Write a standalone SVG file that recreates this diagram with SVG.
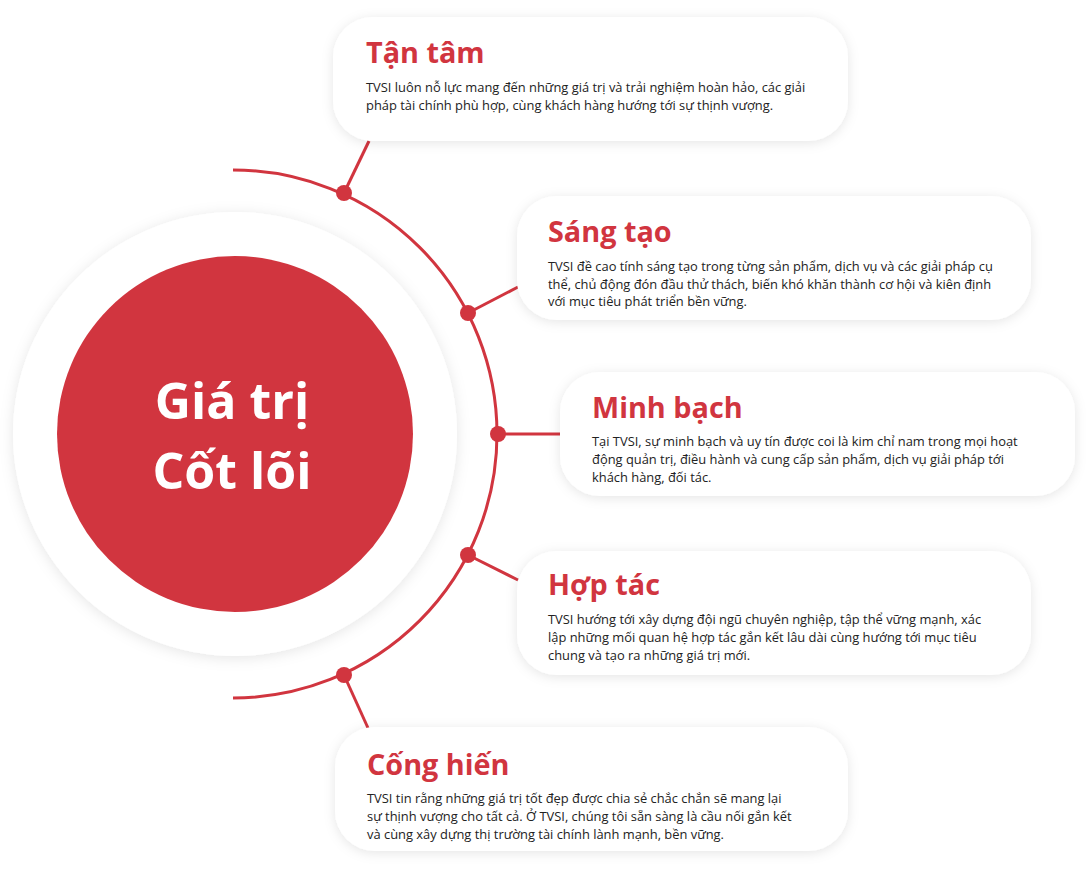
<svg xmlns="http://www.w3.org/2000/svg" width="1092" height="872" viewBox="0 0 1092 872">
<defs>
<filter id="sh" x="-20%" y="-30%" width="140%" height="160%">
<feDropShadow dx="0" dy="2" stdDeviation="6" flood-color="#000" flood-opacity="0.10"/>
</filter>
<filter id="shc" x="-20%" y="-20%" width="140%" height="140%">
<feDropShadow dx="0" dy="2" stdDeviation="7" flood-color="#000" flood-opacity="0.10"/>
</filter>
<style>
.card{fill:#fff;filter:url(#sh);}
.title{font-family:"Open Sans","Noto Sans",sans-serif;font-weight:700;font-size:28.8px;fill:#d1353f;}
.body{font-family:"Open Sans","Noto Sans",sans-serif;font-size:12.9px;fill:#222;}
.conn{stroke:#d1353f;stroke-width:3;fill:none;}
.dot{fill:#d1353f;}
.center{font-family:"Open Sans","Noto Sans",sans-serif;font-weight:700;font-size:50px;fill:#fff;text-anchor:middle;}
</style>
</defs>
<rect width="1092" height="872" fill="#fff"/>
<g id="core">
<circle cx="235" cy="434" r="222" fill="#fff" filter="url(#shc)"/>
<circle cx="235" cy="434" r="178" fill="#d1353f"/>
<text class="center" x="232" y="419">Giá trị</text>
<text class="center" x="232" y="489">Cốt lõi</text>
</g>
<g id="connectors">
<path class="conn" d="M233 170 A264 264 0 0 1 233 698"/>
<line class="conn" x1="344" y1="193" x2="369" y2="141"/>
<line class="conn" x1="468" y1="313" x2="518" y2="287"/>
<line class="conn" x1="498" y1="434" x2="561" y2="434"/>
<line class="conn" x1="468" y1="555" x2="518" y2="580"/>
<line class="conn" x1="344" y1="675" x2="368" y2="728"/>
<circle class="dot" cx="344" cy="193" r="8"/>
<circle class="dot" cx="468" cy="313" r="8"/>
<circle class="dot" cx="498" cy="434" r="8"/>
<circle class="dot" cx="468" cy="555" r="8"/>
<circle class="dot" cx="344" cy="675" r="8"/>
</g>
<g id="tan-tam">
<rect class="card" x="333" y="17" width="515" height="124" rx="40"/>
<text class="title" x="366" y="63">Tận tâm</text>
<text class="body" x="366" y="92">TVSI luôn nỗ lực mang đến những giá trị và trải nghiệm hoàn hảo, các giải</text>
<text class="body" x="366" y="110">pháp tài chính phù hợp, cùng khách hàng hướng tới sự thịnh vượng.</text>
</g>
<g id="sang-tao">
<rect class="card" x="517" y="196" width="514" height="124" rx="40"/>
<text class="title" x="548" y="242">Sáng tạo</text>
<text class="body" x="548" y="271">TVSI đề cao tính sáng tạo trong từng sản phẩm, dịch vụ và các giải pháp cụ</text>
<text class="body" x="548" y="289">thể, chủ động đón đầu thử thách, biến khó khăn thành cơ hội và kiên định</text>
<text class="body" x="548" y="306">với mục tiêu phát triển bền vững.</text>
</g>
<g id="minh-bach">
<rect class="card" x="560" y="372" width="515" height="124" rx="40"/>
<text class="title" x="592" y="418">Minh bạch</text>
<text class="body" x="592" y="446">Tại TVSI, sự minh bạch và uy tín được coi là kim chỉ nam trong mọi hoạt</text>
<text class="body" x="592" y="464">động quản trị, điều hành và cung cấp sản phẩm, dịch vụ giải pháp tới</text>
<text class="body" x="592" y="482">khách hàng, đối tác.</text>
</g>
<g id="hop-tac">
<rect class="card" x="517" y="551" width="514" height="124" rx="40"/>
<text class="title" x="548" y="595">Hợp tác</text>
<text class="body" x="548" y="624">TVSI hướng tới xây dựng đội ngũ chuyên nghiệp, tập thể vững mạnh, xác</text>
<text class="body" x="548" y="642">lập những mối quan hệ hợp tác gắn kết lâu dài cùng hướng tới mục tiêu</text>
<text class="body" x="548" y="660">chung và tạo ra những giá trị mới.</text>
</g>
<g id="cong-hien">
<rect class="card" x="335" y="727" width="513" height="124" rx="40"/>
<text class="title" x="367" y="775">Cống hiến</text>
<text class="body" x="367" y="803">TVSI tin rằng những giá trị tốt đẹp được chia sẻ chắc chắn sẽ mang lại</text>
<text class="body" x="367" y="821">sự thịnh vượng cho tất cả. Ở TVSI, chúng tôi sẵn sàng là cầu nối gắn kết</text>
<text class="body" x="367" y="839">và cùng xây dựng thị trường tài chính lành mạnh, bền vững.</text>
</g>
</svg>
